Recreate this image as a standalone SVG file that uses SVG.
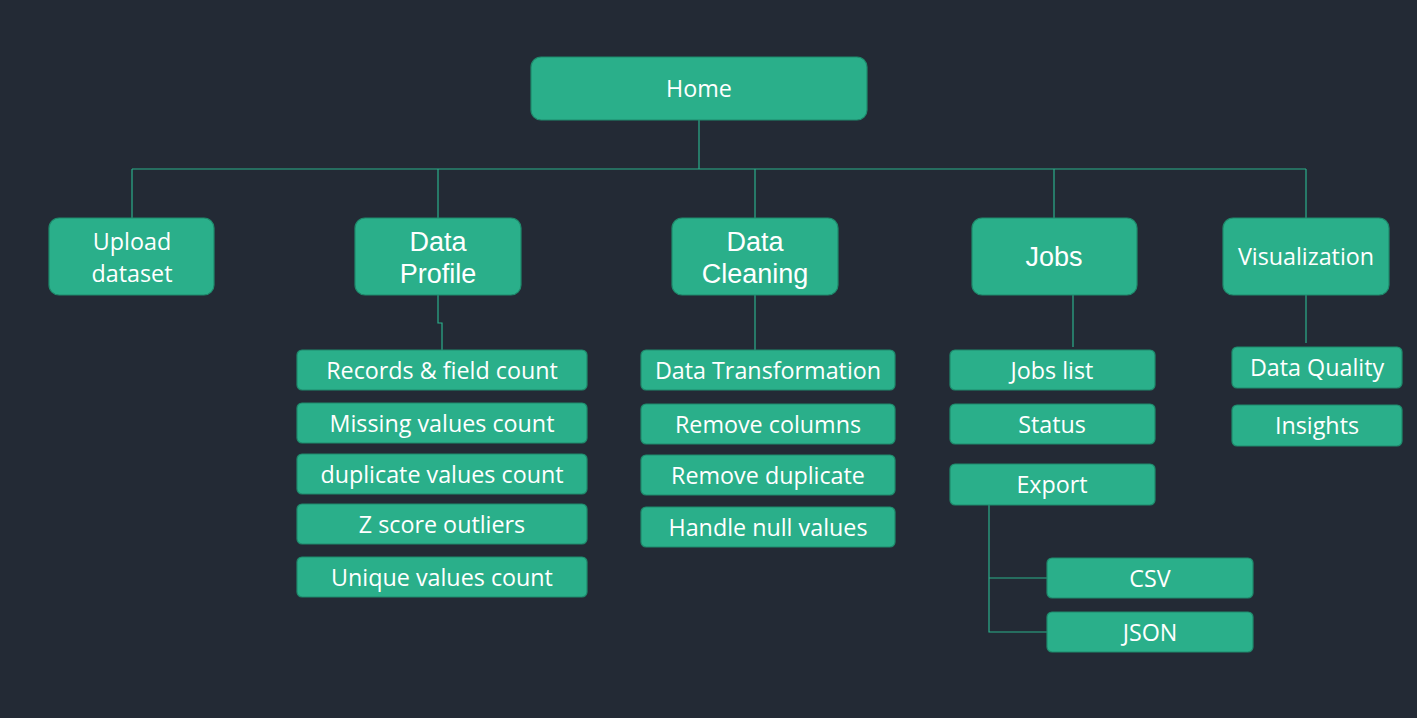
<svg xmlns="http://www.w3.org/2000/svg" width="1417" height="718" viewBox="0 0 1417 718">
<style>
.n{fill:#2aaf8a;stroke:#1f8a6c;stroke-width:1.2}
.t{fill:#ffffff;font-family:"Open Sans","Noto Sans",sans-serif;font-size:23.3px;text-anchor:middle}
.a{fill:#ffffff;font-family:"Liberation Sans",Arial,sans-serif;font-size:27px;text-anchor:middle}
.c{fill:none;stroke:#2aaf8a;stroke-width:1.2}
</style>
<rect width="1417" height="718" fill="#232a35"/>
<g id="connectors">
<path class="c" d="M699 120V169M132 169H1306M132 169V218M438 169V218M755 169V218M1054 169V218M1306 169V218"/>
<path class="c" d="M438 295V323H442V350"/>
<path class="c" d="M755 295V350"/>
<path class="c" d="M1073 295V347"/>
<path class="c" d="M1306 295V343"/>
<path class="c" d="M989 505V632H1047M989 578H1047"/>
</g>
<g id="home"><rect class="n" x="531" y="57" width="336" height="63" rx="10"/><text class="t" x="699" y="97">Home</text></g>
<g id="upload"><rect class="n" x="49" y="218" width="165" height="77" rx="10"/><text class="t" x="132" y="250">Upload</text><text class="t" x="132" y="282">dataset</text></g>
<g id="profile"><rect class="n" x="355" y="218" width="166" height="77" rx="10"/><text class="a" x="438" y="251">Data</text><text class="a" x="438" y="283">Profile</text></g>
<g id="cleaning"><rect class="n" x="672" y="218" width="166" height="77" rx="10"/><text class="a" x="755" y="251">Data</text><text class="a" x="755" y="283">Cleaning</text></g>
<g id="jobs"><rect class="n" x="972" y="218" width="165" height="77" rx="10"/><text class="a" x="1054" y="266">Jobs</text></g>
<g id="visualization"><rect class="n" x="1223" y="218" width="166" height="77" rx="10"/><text class="t" x="1306" y="265">Visualization</text></g>
<g id="records"><rect class="n" x="297" y="350" width="290" height="40" rx="5"/><text class="t" x="442" y="379">Records &amp; field count</text></g>
<g id="missing"><rect class="n" x="297" y="403" width="290" height="40" rx="5"/><text class="t" x="442" y="432">Missing values count</text></g>
<g id="duplicate"><rect class="n" x="297" y="454" width="290" height="40" rx="5"/><text class="t" x="442" y="483">duplicate values count</text></g>
<g id="zscore"><rect class="n" x="297" y="504" width="290" height="40" rx="5"/><text class="t" x="442" y="533">Z score outliers</text></g>
<g id="unique"><rect class="n" x="297" y="557" width="290" height="40" rx="5"/><text class="t" x="442" y="586">Unique values count</text></g>
<g id="transformation"><rect class="n" x="641" y="350" width="254" height="40" rx="5"/><text class="t" x="768" y="379">Data Transformation</text></g>
<g id="removecolumns"><rect class="n" x="641" y="404" width="254" height="40" rx="5"/><text class="t" x="768" y="433">Remove columns</text></g>
<g id="removeduplicate"><rect class="n" x="641" y="455" width="254" height="40" rx="5"/><text class="t" x="768" y="484">Remove duplicate</text></g>
<g id="handlenull"><rect class="n" x="641" y="507" width="254" height="40" rx="5"/><text class="t" x="768" y="536">Handle null values</text></g>
<g id="jobslist"><rect class="n" x="950" y="350" width="205" height="40" rx="5"/><text class="t" x="1052" y="379">Jobs list</text></g>
<g id="status"><rect class="n" x="950" y="404" width="205" height="40" rx="5"/><text class="t" x="1052" y="433">Status</text></g>
<g id="export"><rect class="n" x="950" y="464" width="205" height="41" rx="5"/><text class="t" x="1052" y="493">Export</text></g>
<g id="csv"><rect class="n" x="1047" y="558" width="206" height="40" rx="5"/><text class="t" x="1150" y="587">CSV</text></g>
<g id="json"><rect class="n" x="1047" y="612" width="206" height="40" rx="5"/><text class="t" x="1150" y="641">JSON</text></g>
<g id="dataquality"><rect class="n" x="1232" y="347" width="170" height="41" rx="5"/><text class="t" x="1317" y="376">Data Quality</text></g>
<g id="insights"><rect class="n" x="1232" y="405" width="170" height="41" rx="5"/><text class="t" x="1317" y="434">Insights</text></g>
</svg>
